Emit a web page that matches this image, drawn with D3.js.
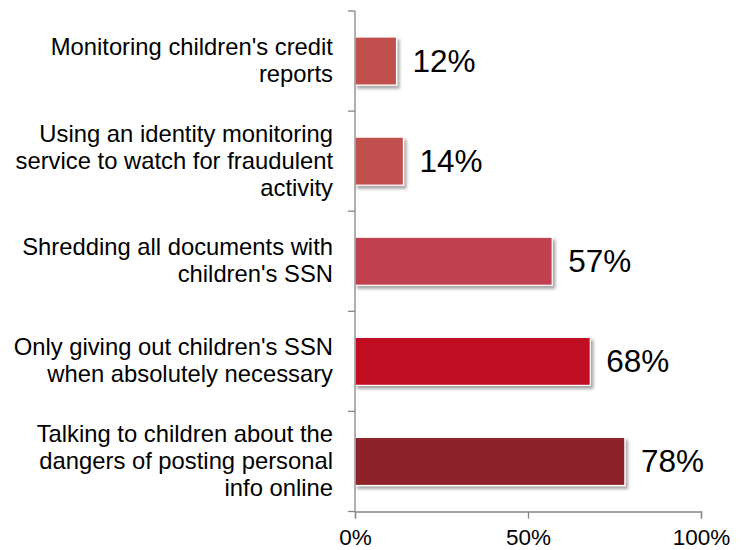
<!DOCTYPE html>
<html>
<head>
<meta charset="utf-8">
<script src="https://cdn.jsdelivr.net/npm/d3@7"></script>
<style>
  html, body { margin: 0; padding: 0; background: #fff; }
  svg { display: block; font-family: "Liberation Sans", Arial, sans-serif; }
</style>
</head>
<body>
<svg id="chart" width="747" height="550"></svg>
<script>
const categories = [
  "Monitoring children's credit\nreports",
  "Using an identity monitoring\nservice to watch for fraudulent\nactivity",
  "Shredding all documents with\nchildren's SSN",
  "Only giving out children's SSN\nwhen absolutely necessary",
  "Talking to children about the\ndangers of posting personal\ninfo online"
];
const values = [0.12, 0.14, 0.57, 0.68, 0.78];
const valueLabels = ["12%", "14%", "57%", "68%", "78%"];
const barColors = ["#C0504D", "#C0504D", "#C04150", "#C00D20", "#8E2329"];
const xTicks = [0, 0.5, 1];
const xTickLabels = ["0%", "50%", "100%"];

const svg = d3.select("#chart");
const plotLeft = 355, plotRight = 701, plotTop = 11, plotBottom = 511.5;

const x = d3.scaleLinear().domain([0, 1]).range([plotLeft, plotRight]);
const y = d3.scaleBand().domain(categories).range([plotTop, plotBottom])
  .paddingInner(0.52).paddingOuter(0.26);

const defs = svg.append("defs");
const f = defs.append("filter").attr("id", "shadow")
  .attr("x", "-10%").attr("y", "-20%").attr("width", "130%").attr("height", "160%");
f.append("feDropShadow").attr("dx", 2.5).attr("dy", 3).attr("stdDeviation", 1.8)
  .attr("flood-color", "#000").attr("flood-opacity", 0.35);

// bars
svg.append("g").selectAll("rect").data(categories).join("rect")
  .attr("x", x(0))
  .attr("y", d => y(d))
  .attr("width", (d, i) => x(values[i]) - x(0))
  .attr("height", y.bandwidth())
  .attr("fill", (d, i) => barColors[i])
  .attr("stroke", "#fff")
  .attr("stroke-width", 1.2)
  .attr("filter", "url(#shadow)");

// value labels
svg.append("g").selectAll("text").data(categories).join("text")
  .attr("x", (d, i) => x(values[i]) + 16)
  .attr("y", d => y(d) + y.bandwidth() / 2 + 11)
  .attr("font-size", 31.5)
  .attr("fill", "#000")
  .text((d, i) => valueLabels[i]);

// y axis line and ticks at band boundaries
const axisColor = "#868686";
svg.append("line").attr("x1", plotLeft).attr("x2", plotLeft).attr("y1", plotTop).attr("y2", plotBottom)
  .attr("stroke", axisColor).attr("stroke-width", 1.3);
const boundaries = categories.map(c => y(c) - y.step() * y.paddingInner() / 2);
boundaries.push(plotBottom);
boundaries[0] = plotTop;
svg.append("g").selectAll("line").data(boundaries).join("line")
  .attr("x1", plotLeft - 7).attr("x2", plotLeft)
  .attr("y1", d => d).attr("y2", d => d)
  .attr("stroke", axisColor).attr("stroke-width", 1.3);

// category labels
const lineH = 27;
const catG = svg.append("g");
categories.forEach(c => {
  const lines = c.split("\n");
  const cy = y(c) + y.bandwidth() / 2 + 7.5;
  const t = catG.append("text")
    .attr("text-anchor", "end")
    .attr("font-size", 23.8)
    .attr("fill", "#000");
  lines.forEach((ln, j) => {
    t.append("tspan").attr("x", 333)
      .attr("y", cy + (j - (lines.length - 1) / 2) * lineH)
      .text(ln);
  });
});

// x axis
const xAxis = d3.axisBottom(x).tickValues(xTicks)
  .tickFormat((d, i) => xTickLabels[i]).tickSize(7).tickPadding(10.5);
const gx = svg.append("g").attr("transform", `translate(0,${plotBottom})`).call(xAxis);
gx.select(".domain").attr("stroke", axisColor).attr("stroke-width", 1.3);
gx.selectAll(".tick line").attr("stroke", axisColor).attr("stroke-width", 1.3);
gx.selectAll(".tick text").attr("font-size", 22.5).attr("fill", "#000")
  .attr("font-family", "Liberation Sans, Arial, sans-serif");
</script>
</body>
</html>
